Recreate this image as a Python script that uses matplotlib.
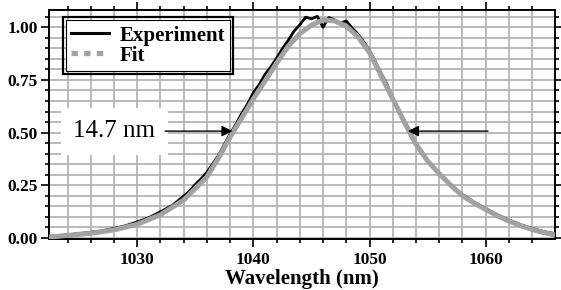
import matplotlib.pyplot as plt
from matplotlib.lines import Line2D
from matplotlib.patches import Rectangle
from matplotlib.ticker import MultipleLocator

exp_wl = [1022.5, 1023, 1024, 1025, 1026, 1027, 1028, 1029, 1030, 1031, 1032, 1033,
          1034, 1034.5, 1035, 1035.5, 1036, 1036.5, 1037, 1037.5, 1038, 1038.5, 1039,
          1039.5, 1040, 1040.5, 1041, 1041.5, 1042, 1042.5, 1043, 1043.5, 1044, 1044.5,
          1045, 1045.5, 1046, 1046.3, 1046.5, 1047, 1047.5, 1048, 1048.5, 1049, 1049.5,
          1050, 1050.5, 1051, 1051.5, 1052, 1052.5, 1053, 1053.5, 1054, 1054.5, 1055,
          1056, 1057, 1058, 1059, 1060, 1061, 1062, 1063, 1064, 1065, 1066]
exp_int = [0.008, 0.010, 0.015, 0.020, 0.027, 0.034, 0.045, 0.058, 0.076, 0.096, 0.124, 0.154,
           0.198, 0.222, 0.254, 0.281, 0.312, 0.352, 0.392, 0.444, 0.494, 0.540, 0.592,
           0.636, 0.690, 0.728, 0.776, 0.812, 0.854, 0.898, 0.938, 0.982, 1.012, 1.048,
           1.040, 1.052, 1.000, 1.030, 1.046, 1.035, 1.020, 1.030, 0.996, 0.968, 0.930,
           0.890, 0.836, 0.780, 0.730, 0.660, 0.600, 0.545, 0.490, 0.440, 0.400, 0.365,
           0.306, 0.250, 0.206, 0.170, 0.140, 0.110, 0.085, 0.063, 0.045, 0.030, 0.020]

# Fit curve
fit_wl = [1022.5, 1024, 1026, 1028, 1030, 1032, 1034, 1036, 1037, 1038, 1039, 1040, 1041,
          1042, 1043, 1044, 1045, 1046, 1047, 1048, 1049, 1050, 1051, 1052, 1053, 1054,
          1055, 1056, 1057, 1058, 1059, 1060, 1061, 1062, 1063, 1064, 1065, 1066]
fit_int = [0.004, 0.012, 0.022, 0.038, 0.065, 0.110, 0.180, 0.290, 0.380, 0.480, 0.570, 0.660,
           0.745, 0.830, 0.910, 0.970, 1.010, 1.035, 1.030, 1.005, 0.955, 0.880, 0.770, 0.660,
           0.550, 0.445, 0.365, 0.305, 0.250, 0.200, 0.165, 0.135, 0.105, 0.080, 0.058,
           0.040, 0.025, 0.014]

fwhm_label = "14.7 nm"
half_left, half_right, half_level = 1038.2, 1053.3, 0.507

SERIF = ["Liberation Serif", "DejaVu Serif"]
GRAY = "#a2a2a2"

fig = plt.figure(figsize=(5.61, 2.90), dpi=100)
ax = fig.add_axes([0.0873, 0.176, 0.9017, 0.7895])

ax.plot(exp_wl, exp_int, color="black", lw=2.0, zorder=3)
ax.plot(fit_wl, fit_int, color=GRAY, lw=3.6, zorder=4, solid_capstyle="round")

ax.set_xlim(1022.4, 1065.95)
ax.set_ylim(-0.005, 1.082)

ax.xaxis.set_major_locator(MultipleLocator(10))
ax.xaxis.set_minor_locator(MultipleLocator(2))
ax.yaxis.set_major_locator(MultipleLocator(0.25))
ax.yaxis.set_minor_locator(MultipleLocator(0.05))
ax.yaxis.set_major_formatter(lambda v, p: f"{v:.2f}")

ax.grid(which="both", color="#b4b4b4", lw=1.3, zorder=0)
ax.set_axisbelow(True)
ax.tick_params(which="both", top=True, right=True, direction="out", width=1.2,
               labelsize=12.5, pad=2)
ax.tick_params(axis="x", which="major", pad=3.5)
ax.tick_params(which="major", length=6)
ax.tick_params(which="minor", length=3)
for s in ax.spines.values():
    s.set_linewidth(1.4)
for lab in ax.get_xticklabels() + ax.get_yticklabels():
    lab.set_family(SERIF)
    lab.set_fontweight("bold")

ax.set_xlabel("Wavelength (nm)", family=SERIF, fontweight="bold", fontsize=15, labelpad=0.5)

# legend with double frame
handles = [Line2D([], [], color="black", lw=2.2),
           Line2D([], [], color=GRAY, lw=3.8, ls=(0, (1.2, 1.2)))]
leg = ax.legend(handles, ["Experiment", "Fit"], loc="upper left",
                bbox_to_anchor=(0.034, 0.955), borderaxespad=0, fancybox=False,
                framealpha=1, edgecolor="black", handlelength=1.8, handletextpad=0.5,
                borderpad=0.25, labelspacing=0.0,
                prop={"family": SERIF, "weight": "bold", "size": 15})
leg.get_frame().set_linewidth(0.8)
leg.set_zorder(6)
fig.canvas.draw()
bb = leg.get_window_extent().transformed(ax.transAxes.inverted())
ax.add_patch(Rectangle((bb.x0 - 0.006, bb.y0 - 0.013), bb.width + 0.012, bb.height + 0.026,
                       transform=ax.transAxes, fill=False, ec="black", lw=1.6,
                       zorder=6, clip_on=False))

# FWHM annotation
ax.text(1028.0, half_level, fwhm_label, family=SERIF, fontsize=18, ha="center", va="center",
        zorder=7, bbox=dict(boxstyle="square,pad=0.5", fc="white", ec="none"))
arrow = dict(arrowstyle="-|>", color="black", lw=1.0, mutation_scale=16, shrinkA=0, shrinkB=0)
ax.annotate("", xy=(half_left, half_level), xytext=(1032.4, half_level),
            arrowprops=arrow, zorder=7)
ax.annotate("", xy=(half_right, half_level), xytext=(1060.2, half_level),
            arrowprops=arrow, zorder=7)

fig.savefig("out.png", dpi=100)
